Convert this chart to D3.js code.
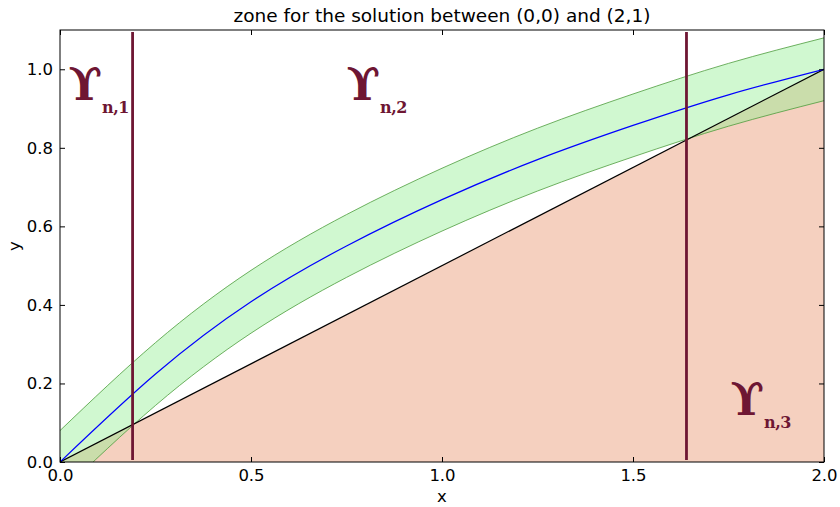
<!DOCTYPE html>
<html>
<head>
<meta charset="utf-8">
<script src="https://cdn.jsdelivr.net/npm/d3@7"></script>
<style>
  body { margin: 0; background: #fff; }
  svg text { font-family: "DejaVu Sans", sans-serif; }
</style>
</head>
<body>
<svg id="chart" width="840" height="507"></svg>
<script>
// values
let xs     = [0, 0.25, 0.5, 0.75, 1.0, 1.25, 1.5, 1.75, 2.0]
let curve  = [0, 0.224, 0.408, 0.550, 0.668, 0.770, 0.857, 0.935, 1.0]
let upper  = [0.08, 0.304, 0.488, 0.630, 0.748, 0.850, 0.937, 1.015, 1.08]
let lower  = [-0.08, 0.144, 0.328, 0.470, 0.588, 0.690, 0.777, 0.855, 0.92]
let chordX = [0, 2]
let chordY = [0, 1]
let cuts   = [0.19, 1.64]
let labels = [{x: 0.022, y: 0.922, sub: "n,1"}, {x: 0.75, y: 0.922, sub: "n,2"}, {x: 1.755, y: 0.12, sub: "n,3"}]
let xTicks = [0, 0.5, 1.0, 1.5, 2.0]
let yTicks = [0, 0.2, 0.4, 0.6, 0.8, 1.0]

let dims = {left: 60, right: 824, top: 30, bottom: 462}
let svg = d3.select("#chart")

let xscale = d3.scaleLinear().domain([0, 2]).range([dims.left, dims.right])
let yscale = d3.scaleLinear().domain([0, 1.1]).range([dims.bottom, dims.top])

svg.append("clipPath").attr("id", "plot")
  .append("rect")
  .attr("x", dims.left).attr("y", dims.top)
  .attr("width", dims.right - dims.left).attr("height", dims.bottom - dims.top)

let g = svg.append("g").attr("clip-path", "url(#plot)")

// salmon zone below the chord
let chord = chordX.map((x, i) => ({x: x, y: chordY[i]}))
g.append("path")
  .datum(chord)
  .attr("d", d3.area().x(d => xscale(d.x)).y0(yscale(0)).y1(d => yscale(d.y)))
  .attr("fill", "#f5d0bf")

// green band
let pts = xs.map((x, i) => ({x: x, y: curve[i], hi: upper[i], lo: lower[i]}))
g.append("path")
  .datum(pts)
  .attr("d", d3.area().curve(d3.curveNatural).x(d => xscale(d.x)).y0(d => yscale(d.lo)).y1(d => yscale(d.hi)))
  .attr("fill", "#90ee90").attr("fill-opacity", 0.42)

let edge = key => d3.line().curve(d3.curveNatural).x(d => xscale(d.x)).y(d => yscale(d[key]))
for (let key of ["hi", "lo"]) {
  g.append("path").datum(pts).attr("d", edge(key))
    .attr("fill", "none").attr("stroke", "#4c9c3c").attr("stroke-width", 0.8)
}

// chord and solution curve
g.append("path").datum(chord)
  .attr("d", d3.line().x(d => xscale(d.x)).y(d => yscale(d.y)))
  .attr("fill", "none").attr("stroke", "black").attr("stroke-width", 1.2)
g.append("path").datum(pts).attr("d", edge("y"))
  .attr("fill", "none").attr("stroke", "#0000ff").attr("stroke-width", 1.2)

// vertical separators
g.selectAll("line.cut").data(cuts).join("line")
  .attr("class", "cut")
  .attr("x1", d => xscale(d)).attr("x2", d => xscale(d))
  .attr("y1", yscale(0.005)).attr("y2", yscale(1.095))
  .attr("stroke", "#6e1633").attr("stroke-width", 2.8)

// region labels
let lab = svg.selectAll("text.lab").data(labels).join("text")
  .attr("class", "lab")
  .attr("x", d => xscale(d.x)).attr("y", d => yscale(d.y))
  .attr("fill", "#6e1633")
lab.append("tspan").text("\u03D2")
  .style("font-family", "DejaVu Serif, serif").style("font-weight", "bold").style("font-size", "44px")
lab.append("tspan").text(d => d.sub)
  .attr("dy", 13).attr("dx", 0)
  .style("font-family", "DejaVu Serif, serif").style("font-weight", "bold").style("font-size", "16px")
  .style("letter-spacing", "-0.5px")

// frame
svg.append("rect")
  .attr("x", dims.left).attr("y", dims.top)
  .attr("width", dims.right - dims.left).attr("height", dims.bottom - dims.top)
  .attr("fill", "none").attr("stroke", "black").attr("stroke-width", 1)

// axes with inward ticks on all sides
let fmt = d3.format(".1f")
svg.append("g").attr("transform", `translate(0,${dims.bottom})`)
  .call(d3.axisBottom(xscale).tickValues(xTicks).tickFormat(fmt).tickSizeInner(-5).tickSizeOuter(0).tickPadding(7))
svg.append("g").attr("transform", `translate(0,${dims.top})`)
  .call(d3.axisTop(xscale).tickValues(xTicks).tickFormat("").tickSizeInner(-5).tickSizeOuter(0))
svg.append("g").attr("transform", `translate(${dims.left},0)`)
  .call(d3.axisLeft(yscale).tickValues(yTicks).tickFormat(fmt).tickSizeInner(-5).tickSizeOuter(0).tickPadding(7))
svg.append("g").attr("transform", `translate(${dims.right},0)`)
  .call(d3.axisRight(yscale).tickValues(yTicks).tickFormat("").tickSizeInner(-5).tickSizeOuter(0))

svg.selectAll(".domain").remove()
svg.selectAll(".tick text").style("font-size", "16.5px").style("font-family", "DejaVu Sans, sans-serif").attr("fill", "black")
svg.selectAll(".tick line").attr("stroke", "black")

// titles
svg.append("text").attr("x", (dims.left + dims.right) / 2).attr("y", 22)
  .attr("text-anchor", "middle").style("font-size", "18.5px")
  .text("zone for the solution between (0,0) and (2,1)")
svg.append("text").attr("x", (dims.left + dims.right) / 2).attr("y", 502)
  .attr("text-anchor", "middle").style("font-size", "16.5px").text("x")
svg.append("text").attr("transform", `translate(20,${(dims.top + dims.bottom) / 2}) rotate(-90)`)
  .attr("text-anchor", "middle").style("font-size", "16.5px").text("y")
</script>
</body>
</html>
